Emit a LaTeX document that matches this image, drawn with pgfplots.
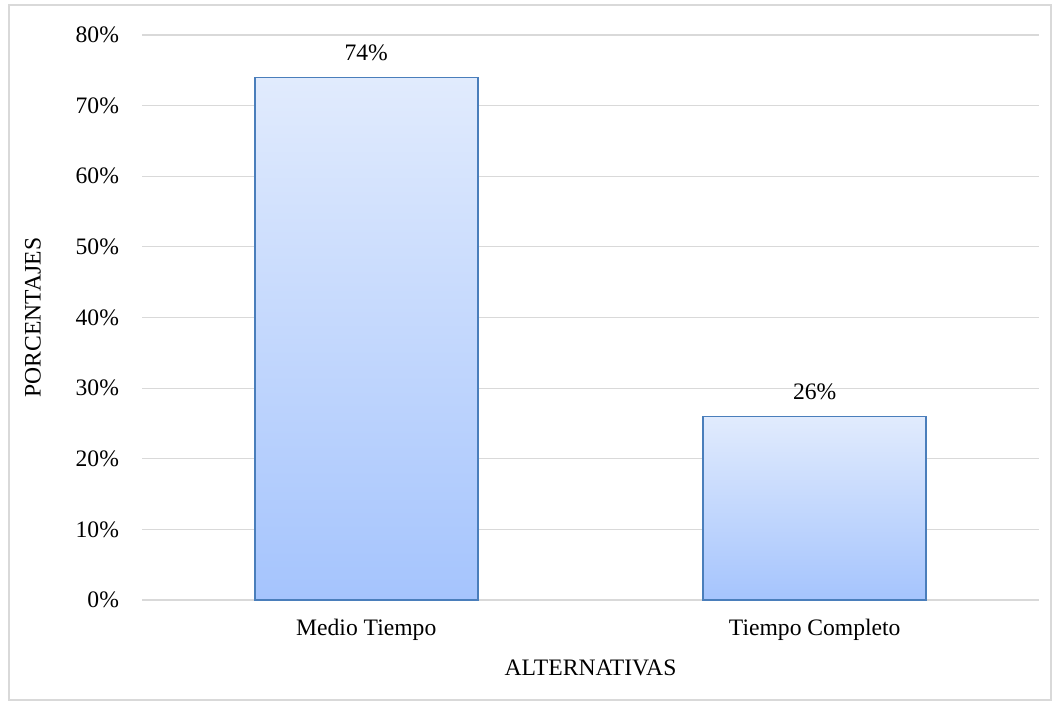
\documentclass[border=0pt]{standalone}
\usepackage{pgfplots}
\pgfplotsset{compat=1.18}
\usepackage{fontspec}
\setmainfont{Liberation Serif}
\definecolor{gridc}{HTML}{D9D9D9}
\definecolor{barline}{HTML}{4A7EBB}
\definecolor{bartop}{HTML}{E1EBFD}
\definecolor{barbot}{HTML}{A5C4FD}
\begin{document}
\begin{tikzpicture}[x=1pt,y=1pt]
\path[use as bounding box] (0,0) rectangle (530,352);
\draw[gridc, line width=1pt] (4.5,2) rectangle (525.5,349.5);
\begin{axis}[
  at={(71pt,52pt)}, anchor=south west,
  scale only axis, width=448.5pt, height=282.5pt,
  ymin=0, ymax=80,
  xmin=-0.5, xmax=1.5,
  ytick={0,10,...,80},
  yticklabel={\pgfmathprintnumber{\tick}\%},
  xtick={0,1},
  xticklabels={Medio Tiempo, Tiempo Completo},
  /pgf/number format/assume math mode=true,
  tick label style={font=\fontsize{11.8}{14}\selectfont},
  yticklabel style={xshift=-8pt},
  xticklabel style={yshift=-6pt},
  major tick length=0pt,
  ymajorgrids, grid style={gridc, line width=0.6pt},
  axis x line*=bottom, axis y line*=left,
  y axis line style={draw=none},
  x axis line style={gridc, line width=0.8pt, -},
  xlabel={ALTERNATIVAS}, ylabel={PORCENTAJES},
  label style={font=\fontsize{11.8}{14}\selectfont},
  xlabel style={at={(axis description cs:0.5,-0.1204)}, anchor=center},
  ylabel style={at={(axis description cs:-0.1215,0.5)}, anchor=center},
  ybar, bar width=111.5pt, bar shift=0pt,
  nodes near coords={\pgfmathprintnumber{\pgfplotspointmeta}\%},
  every node near coord/.append style={font=\fontsize{11.8}{14}\selectfont, yshift=4.5pt},
  clip=false,
]
\addplot[draw=barline, line width=0.8pt, top color=bartop, bottom color=barbot, bar shift=0pt]
  coordinates {(0,74)};
\addplot[draw=barline, line width=0.8pt, top color=bartop, bottom color=barbot, bar shift=0pt]
  coordinates {(1,26)};
\end{axis}
\end{tikzpicture}
\end{document}
